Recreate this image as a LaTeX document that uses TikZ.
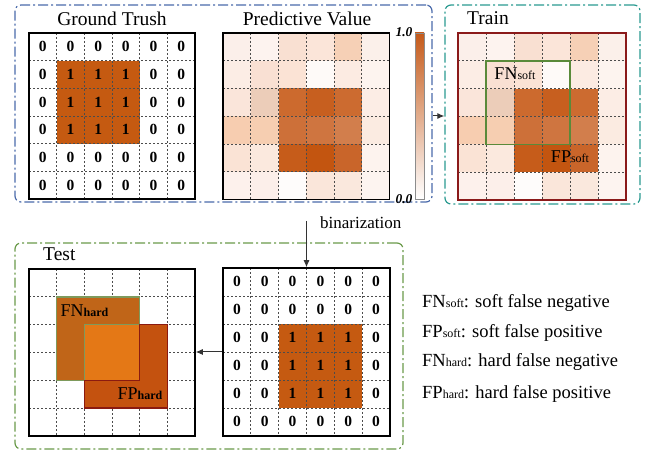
\documentclass[tikz,border=0pt]{standalone}
\usepackage{fontspec}
\setmainfont{Liberation Serif}
\usetikzlibrary{arrows.meta}
\definecolor{boxblue}{HTML}{4A6AAA}
\definecolor{boxteal}{HTML}{2A9A90}
\definecolor{boxgreen}{HTML}{6A9A4A}
\definecolor{onefill}{HTML}{C55A11}
\definecolor{trainred}{HTML}{8B1A1A}
\definecolor{fnsoftg}{HTML}{5A8A3A}
\definecolor{fnhfill}{HTML}{C06518}
\definecolor{fnhline}{HTML}{7E9A5C}
\definecolor{fphfill}{HTML}{C4520F}
\definecolor{fphline}{HTML}{8B1A10}
\definecolor{ovfill}{HTML}{E47816}
\definecolor{cbtop}{HTML}{C55A1A}
\newcommand\smsub[1]{{\fontsize{12}{12}\selectfont #1}}
\newcommand\pvcellfill[4]{%
  \foreach \r/\c/\hx in {0/0/FBEFEA,0/1/FDF3EF,0/2/F9E0D2,0/3/FBE5D9,0/4/F6D0B6,0/5/FBF0EA,
    1/0/FCEDE5,1/1/F9E0D3,1/2/FBE3D5,1/3/FEFAF8,1/4/FCEBE2,1/5/FDF4EF,
    2/0/FAE5DA,2/1/ECCDB9,2/2/CC6A2E,2/3/C75F1F,2/4/CC6B30,2/5/FCEDE5,
    3/0/F7CDB0,3/1/F6CEB1,3/2/CD7039,3/3/CF7540,3/4/D27E4C,3/5/FBEBE1,
    4/0/FAE3D5,4/1/FBE9DE,4/2/C65C1A,4/3/C35510,4/4/C9652A,4/5/FDF3EE,
    5/0/FDF1EC,5/1/FCEFEA,5/2/FEFCFB,5/3/FAE6DA,5/4/FAE8DD,5/5/FDF4F0}{%
    \definecolor{tmpc}{HTML}{\hx}%
    \fill[tmpc] ({#1+\c*#3},{#2+\r*#4}) rectangle ++(#3,#4);}}
\newcommand\dashgrid[4]{%
  \foreach \i in {1,...,5}{%
    \draw[gridd] ({#1+\i*#3},#2) -- ++(0,{6*#4});
    \draw[gridd] (#1,{#2+\i*#4}) -- ++({6*#3},0);}}
\newcommand\digitgrid[6]{%
  \foreach \r in {0,...,5}{\foreach \c in {0,...,5}{%
    \pgfmathtruncatemacro\vv{(\r>#5-1)*(\r<#5+3)*(\c>#6-1)*(\c<#6+3)}%
    \node[digit] (#1-\r-\c) at ({#2+(\c+0.5)*#4},{#3+(\r+0.5)*#4}) {\vv};}}}
\begin{document}
\begin{tikzpicture}[x=1pt,y=-1pt,
  gridd/.style={draw=black!70,line width=0.8pt,dash pattern=on 2pt off 2pt},
  gborder/.style={draw=black,line width=1.5pt,inner sep=0pt,fill=none},
  dbox/.style={rounded corners=6pt,line width=1.2pt,dash pattern=on 10pt off 3pt on 2pt off 3pt,inner sep=0pt},
  digit/.style={font=\fontsize{15.5}{15.5}\selectfont\bfseries,inner sep=0pt},
  title/.style={font=\fontsize{19.5}{20}\selectfont,inner sep=0pt},
  lbl/.style={font=\fontsize{18}{18}\selectfont,inner sep=0pt},
  legend/.style={font=\fontsize{18.5}{19}\selectfont,inner sep=0pt,anchor=west},
  cblabel/.style={font=\fontsize{13.5}{13.5}\selectfont\bfseries\itshape,anchor=east,inner sep=0pt},
  arr/.style={draw=black!80,line width=1pt,-{Latex[length=7pt,width=6pt]}}]
\useasboundingbox (0,0) rectangle (657,454);
% ---------- outer dash-dot boxes
\node[dbox,draw=boxblue,minimum width=417pt,minimum height=197pt] (topbox) at (223.5,103.5) {};
\node[dbox,draw=boxteal,minimum width=195pt,minimum height=199pt] (trainbox) at (542.5,104.5) {};
\node[dbox,draw=boxgreen,minimum width=388pt,minimum height=206pt] (testbox) at (209,346) {};
% ---------- Ground truth grid
\fill[onefill] ({29+27.667},{33+27.667}) rectangle ++(83,83);
\dashgrid{29}{33}{27.667}{27.667}
\node[gborder,minimum size=166pt] (gt) at (112,116) {};
\digitgrid{gtd}{29}{33}{27.667}{1}{1}
\node[title] (gttitle) at (112,19) {Ground Trush};
% ---------- Predictive value grid
\pvcellfill{223}{33}{27.75}{27.75}
\dashgrid{223}{33}{27.75}{27.75}
\node[gborder,minimum size=166.5pt] (pv) at (306.25,116.25) {};
\node[title] (pvtitle) at (307,19) {Predictive Value};
\node[draw=black!45,line width=0.8pt,top color=cbtop,bottom color=white,minimum width=9pt,minimum height=166pt,inner sep=0pt] (cbar) at (419.5,116) {};
\node[cblabel] (cbhi) at ([xshift=-2pt]cbar.north west) {1.0};
\node[cblabel] (cblo) at ([xshift=-2pt]cbar.south west) {0.0};
% ---------- Train grid
\pvcellfill{458}{33}{28}{27.833}
\dashgrid{458}{33}{28}{27.833}
\node[draw=trainred,line width=1.5pt,inner sep=0pt,minimum width=168pt,minimum height=167pt] (train) at (542,116.5) {};
\node[draw=fnsoftg,line width=1.5pt,inner sep=0pt,minimum width=84pt,minimum height=83.5pt] (fnsoft) at (528,102.58) {};
\node[lbl] (fnsoftlbl) at (515,74) {FN\smsub{soft}};
\node[lbl] (fpsoftlbl) at (570,157) {FP\smsub{soft}};
\node[title,anchor=west] (traintitle) at (467,18) {Train};
% ---------- Binarized grid
\fill[onefill] ({223+2*27.833},{268+2*28}) rectangle ++(83.5,84);
\dashgrid{223}{268}{27.833}{28}
\node[gborder,minimum width=167pt,minimum height=168pt] (bin) at (306.5,352) {};
\digitgrid{bnd}{223}{268}{27.833}{2}{2}
% ---------- Test grid
\dashgrid{29}{269}{27.667}{27.833}
\filldraw[fill=fnhfill,draw=fnhline,line width=1.5pt,line join=miter]
  (56.67,296.83) -- (139.67,296.83) -- (139.67,324.67) -- (84.33,324.67) -- (84.33,380.33) -- (56.67,380.33) -- cycle;
\filldraw[fill=fphfill,draw=fphline,line width=1.5pt,line join=miter]
  (139.67,324.67) -- (167.33,324.67) -- (167.33,408.17) -- (84.33,408.17) -- (84.33,380.33) -- (139.67,380.33) -- cycle;
\fill[ovfill] (85.1,325.4) rectangle (138.9,379.6);
\node[gborder,minimum width=166pt,minimum height=167pt] (testgrid) at (112,352.5) {};
\node[lbl] (fnhardlbl) at (84.5,311) {FN\smsub{\bfseries hard}};
\node[lbl] (fphardlbl) at (140,394) {FP\smsub{\bfseries hard}};
\node[title,anchor=west] (testtitle) at (43,254) {Test};
% ---------- arrows
\draw[arr] ([yshift=-12.5pt]topbox.east) -- ([yshift=-12.5pt]topbox.east -| trainbox.west);
\coordinate (bstart) at (306.5,221);
\draw[arr] (bstart) -- (bin.north);
\node[font=\fontsize{17}{17}\selectfont,anchor=west,inner sep=0pt] (binlbl) at (320,223) {binarization};
\draw[arr] (bin.west) -- (bin.west -| testgrid.east);
% ---------- legend
\node[legend] (leg1) at (422,303) {FN\smsub{soft}: soft false negative};
\node[legend] (leg2) at (422,333) {FP\smsub{soft}: soft false positive};
\node[legend] (leg3) at (422,362) {FN\smsub{hard}: hard false negative};
\node[legend] (leg4) at (422,394) {FP\smsub{hard}: hard false positive};
\end{tikzpicture}
\end{document}
